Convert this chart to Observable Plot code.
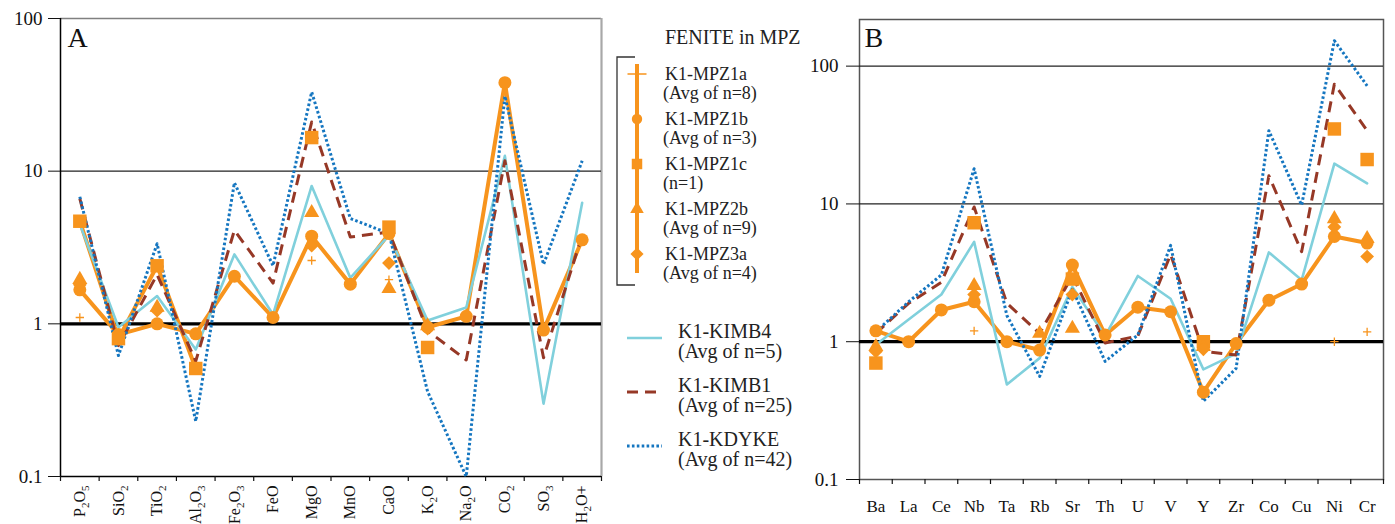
<!DOCTYPE html>
<html><head><meta charset="utf-8">
<script src="https://cdn.jsdelivr.net/npm/d3@7"></script>
<script src="https://cdn.jsdelivr.net/npm/@observablehq/plot@0.6"></script>
<style>
body{margin:0;background:#fff;}
#root{position:relative;width:1395px;height:524px;overflow:hidden;font-family:"Liberation Serif","Times New Roman",serif;}
#root svg{position:absolute;top:0;}
</style></head><body><div id="root"></div>
<script>
// ---------- categories ----------
const oxides = ["P2O5","SiO2","TiO2","Al2O3","Fe2O3","FeO","MgO","MnO","CaO","K2O","Na2O","CO2","SO3","H2O+"];
const traceElements = ["Ba","La","Ce","Nb","Ta","Rb","Sr","Th","U","V","Y","Zr","Co","Cu","Ni","Cr"];
const yTicks = [0.1, 1, 10, 100];
const yTickLabels = ["0.1","1","10","100"];

// ---------- panel A (oxides) ----------
const kimb4A = [4.5, 0.95, 1.52, 0.68, 2.85, 1.15, 8.0, 2.0, 3.8, 1.05, 1.28, 12.6, 0.3, 6.2];
const kimb1A = [6.6, 0.72, 2.1, 0.57, 4.1, 1.85, 21, 3.7, 4.0, 0.9, 0.58, 11.7, 0.6, 3.8];
const kdykeA = [6.8, 0.62, 3.35, 0.23, 8.4, 2.4, 33, 4.9, 3.9, 0.36, 0.1, 31, 2.45, 11.7];
const mpz1bA = [1.67, 0.85, 1.0, 0.86, 2.05, 1.1, 3.75, 1.82, 3.9, 0.95, 1.12, 38, 0.91, 3.55];
const mpz1cA = [4.7, 0.8, 2.4, 0.51, null, null, 16.6, null, 4.3, 0.7, null, null, null, null];
const mpz2bA = [1.95, null, 1.28, null, null, null, 5.35, null, 1.7, 0.97, null, null, null, null];
const mpz3aA = [1.8, null, 1.22, null, null, null, 3.25, null, 2.5, 0.93, null, null, null, null];
const mpz1aA = [1.1, null, null, null, null, null, 2.6, null, 1.95, null, null, null, null, null];
const mpz1cAJoined = 4; // the square series is only joined over its first run of oxides

// ---------- panel B (trace elements) ----------
const kimb4B = [0.95, 1.45, 2.2, 5.3, 0.49, 0.76, 2.5, 1.1, 3.0, 2.05, 0.63, 0.82, 4.45, 2.8, 19.6, 14.1];
const kimb1B = [1.15, 1.9, 2.7, 9.5, 1.9, 1.15, 3.0, 0.98, 1.1, 4.3, 0.85, 0.8, 16, 4.5, 74, 34];
const kdykeB = [1.18, 1.95, 3.05, 18, 1.55, 0.56, 2.4, 0.72, 1.12, 5.0, 0.37, 0.64, 34, 9.8, 153, 72];
const mpz1bB = [1.2, 1.0, 1.7, 1.95, 1.0, 0.87, 3.6, 1.12, 1.78, 1.65, 0.43, 0.97, 2.0, 2.62, 5.8, 5.2];
const mpz1cB = [0.7, null, null, 7.3, null, null, 2.85, null, null, null, 1.0, null, null, null, 35, 21];
const mpz2bB = [0.92, null, null, 2.55, null, 1.15, 1.25, null, null, null, 0.92, null, null, null, 7.8, 5.6];
const mpz3aB = [0.85, null, null, 2.2, null, null, 2.2, null, null, null, 0.88, null, null, null, 6.8, 4.15];
const mpz1aB = [null, null, null, 1.2, null, null, null, null, null, null, null, null, null, null, 1.0, 1.18];

// ---------- legend texts ----------
const legendTitle = "FENITE in MPZ";
const feniteNames = ["K1-MPZ1a","K1-MPZ1b","K1-MPZ1c","K1-MPZ2b","K1-MPZ3a"];
const feniteCounts = ["(Avg of n=8)","(Avg of n=3)","(n=1)","(Avg of n=9)","(Avg of n=4)"];
const kimbNames = ["K1-KIMB4","K1-KIMB1","K1-KDYKE"];
const kimbCounts = ["(Avg of n=5)","(Avg of n=25)","(Avg of n=42)"];

// ---------- styles ----------
const FONT = "'Liberation Serif', 'Times New Roman', serif";
const ORANGE = "#f7941d", CYAN = "#80d0dc", BROWN = "#963826", BLUE = "#1576c0";
const DASH = "11,7", DOT = "2.6,2.3";
const symbols = ["plus","circle","square","triangle","diamond2"];
const symR = {plus: 2.8, circle: 6.5, square: 7.6, triangle: 5.6, diamond2: 6.2};

const rows = vals => vals.map((v, i) => ({i, v}));
const cx = d => d.i + 0.5;

function subscriptify(svg, cats) {
  const set = new Set(cats);
  svg.querySelectorAll("text").forEach(t => {
    const s = t.textContent;
    if (!set.has(s) || !/\d/.test(s)) return;
    t.textContent = "";
    let shifted = false;
    s.match(/\d+|[^\d]+/g).forEach(p => {
      const ts = document.createElementNS("http://www.w3.org/2000/svg", "tspan");
      ts.textContent = p;
      if (/\d/.test(p)) { ts.setAttribute("font-size", "11"); ts.setAttribute("dy", "4"); shifted = true; }
      else if (shifted) { ts.setAttribute("dy", "-4"); shifted = false; }
      t.appendChild(ts);
    });
  });
}

function panel(cfg) {
  const n = cfg.cats.length;
  const marks = [];
  if (cfg.boxed) {
    marks.push(Plot.frame({stroke: "#555", strokeWidth: 1.5}));
    marks.push(Plot.ruleY([100], {stroke: "#222", strokeWidth: 1.1}));
  } else {
    marks.push(Plot.ruleY([100], {stroke: "#808080", strokeWidth: 1.6}));
    marks.push(Plot.ruleX([n], {stroke: "#a8a8a8", strokeWidth: 2.2}));
  }
  marks.push(Plot.ruleY([10], {stroke: "#222", strokeWidth: 1.1}));
  marks.push(Plot.ruleY([1], {stroke: "#000", strokeWidth: 3.2}));
  if (!cfg.boxed) {
    marks.push(Plot.ruleX([0], {stroke: "#000", strokeWidth: 1.5}));
    marks.push(Plot.ruleY([0.1], {stroke: "#000", strokeWidth: 1.5}));
  }
  const s = cfg.series;
  marks.push(Plot.line(rows(s.mpz1b), {x: cx, y: "v", stroke: ORANGE, strokeWidth: 4}));
  if (s.sqJoin) marks.push(Plot.line(rows(s.mpz1c).filter(d => d.i < s.sqJoin), {x: cx, y: "v", stroke: ORANGE, strokeWidth: 4}));
  marks.push(Plot.line(rows(s.kimb4), {x: cx, y: "v", stroke: CYAN, strokeWidth: 2.6}));
  marks.push(Plot.line(rows(s.kimb1), {x: cx, y: "v", stroke: BROWN, strokeWidth: 3, strokeDasharray: DASH, strokeLinecap: "butt"}));
  marks.push(Plot.line(rows(s.kdyke), {x: cx, y: "v", stroke: BLUE, strokeWidth: 3, strokeDasharray: DOT, strokeLinecap: "butt"}));
  const markerSeries = [s.mpz1a, s.mpz1b, s.mpz1c, s.mpz2b, s.mpz3a];
  markerSeries.forEach((vals, k) => {
    const sym = symbols[k];
    const data = rows(vals).filter(d => d.v != null);
    if (sym === "plus") marks.push(Plot.dot(data, {x: cx, y: "v", symbol: sym, r: symR[sym], stroke: ORANGE, strokeWidth: 1.3, fill: "none"}));
    else marks.push(Plot.dot(data, {x: cx, y: "v", symbol: sym, r: symR[sym], fill: ORANGE, stroke: "none"}));
  });
  // axes
  marks.push(Plot.axisY({ticks: yTicks, tickSize: cfg.yTickSize, tickPadding: cfg.yTickPad, tickFormat: d => yTickLabels[yTicks.indexOf(d)], fontSize: 19, label: null}));
  marks.push(Plot.axisX(d3.range(n + 1), {tickSize: 5, tickFormat: () => "", label: null, strokeWidth: 1.2}));
  marks.push(Plot.axisX(d3.range(n).map(i => i + 0.5), {tickSize: 0, tickPadding: cfg.xPad, tickRotate: cfg.rotate, tickFormat: d => cfg.cats[Math.floor(d)], fontSize: cfg.xFont, label: null}));
  marks.push(Plot.text([cfg.letter], {text: d => d, frameAnchor: "top-left", dx: cfg.letterDx, dy: cfg.letterDy, fontSize: 28, fill: "#111"}));

  const svg = Plot.plot({
    width: cfg.width, height: 524,
    marginLeft: cfg.ml, marginRight: cfg.mr, marginTop: cfg.mt, marginBottom: cfg.mb,
    x: {domain: [0, n]},
    y: {type: "log", domain: cfg.yDomain},
    style: {fontFamily: FONT, background: "transparent", overflow: "visible", color: "#111"},
    marks
  });
  svg.style.left = cfg.left + "px";
  subscriptify(svg, cfg.cats);
  return svg;
}

const root = document.getElementById("root");

root.appendChild(panel({
  cats: oxides, left: 0, width: 610, ml: 60, mr: 9, mt: 18, mb: 48,
  yDomain: [0.1, 100], boxed: false, rotate: -90, xPad: 9, xFont: 16,
  yTickSize: 12, yTickPad: 6, letter: "A", letterDx: 7, letterDy: 9,
  series: {kimb4: kimb4A, kimb1: kimb1A, kdyke: kdykeA, mpz1b: mpz1bA, mpz1c: mpz1cA, mpz2b: mpz2bA, mpz3a: mpz3aA, mpz1a: mpz1aA, sqJoin: mpz1cAJoined}
}));

root.appendChild(panel({
  cats: traceElements, left: 790, width: 605, ml: 69, mr: 12, mt: 19, mb: 45,
  yDomain: [0.1, 218], boxed: true, rotate: 0, xPad: 20, xFont: 17,
  yTickSize: 13, yTickPad: 8, letter: "B", letterDx: 5, letterDy: 8,
  series: {kimb4: kimb4B, kimb1: kimb1B, kdyke: kdykeB, mpz1b: mpz1bB, mpz1c: mpz1cB, mpz2b: mpz2bB, mpz3a: mpz3aB, mpz1a: mpz1aB, sqJoin: 0}
}));

// ---------- legend ----------
const lg = d3.select(root).append("svg")
  .attr("width", 1395).attr("height", 524)
  .style("left", "0px").style("pointer-events", "none")
  .style("font-family", FONT);

lg.append("text").attr("x", 665).attr("y", 44).attr("font-size", 20).attr("fill", "#222").text(legendTitle);
lg.append("path").attr("d", "M635,57H617V285H635").attr("fill", "none").attr("stroke", "#333").attr("stroke-width", 1.3);
lg.append("line").attr("x1", 637).attr("x2", 637).attr("y1", 64).attr("y2", 273).attr("stroke", ORANGE).attr("stroke-width", 4);
const legSym = {plus: [d3.symbolPlus, 120], circle: [d3.symbolCircle, 85], square: [d3.symbolSquare, 110], triangle: [d3.symbolTriangle, 80], diamond2: [d3.symbolDiamond2, 110]};
feniteNames.forEach((name, k) => {
  const y = 74 + k * 45;
  const [type, size] = legSym[symbols[k]];
  const p = lg.append("path").attr("transform", `translate(637,${y})`).attr("d", d3.symbol(type, size)());
  if (symbols[k] === "plus") p.attr("fill", "none").attr("stroke", ORANGE).attr("stroke-width", 1.6);
  else p.attr("fill", ORANGE);
  lg.append("text").attr("x", 665).attr("y", y + 6).attr("font-size", 18).attr("fill", "#222").text(name);
  lg.append("text").attr("x", 663).attr("y", y + 24.5).attr("font-size", 18).attr("fill", "#222").text(feniteCounts[k]);
});
const kimbStyles = [{stroke: CYAN, w: 2.6, dash: null}, {stroke: BROWN, w: 3, dash: DASH}, {stroke: BLUE, w: 3, dash: DOT}];
kimbNames.forEach((name, k) => {
  const y = [338, 392, 446][k];
  const st = kimbStyles[k];
  const l = lg.append("line").attr("x1", 627).attr("x2", 662).attr("y1", y).attr("y2", y).attr("stroke", st.stroke).attr("stroke-width", st.w);
  if (st.dash) l.attr("stroke-dasharray", st.dash);
  lg.append("text").attr("x", 678).attr("y", y).attr("font-size", 20).attr("fill", "#222").text(name);
  lg.append("text").attr("x", 678).attr("y", y + 19.5).attr("font-size", 20).attr("fill", "#222").text(kimbCounts[k]);
});
</script></body></html>
